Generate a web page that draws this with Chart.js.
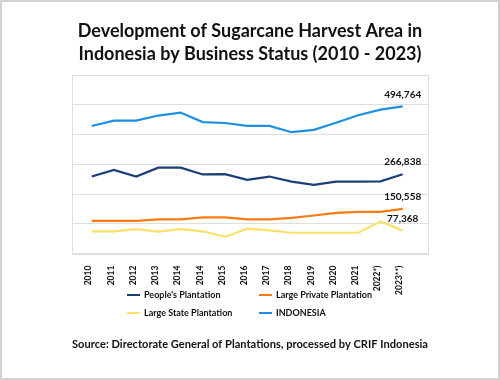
<!DOCTYPE html>
<html>
<head>
<meta charset="utf-8">
<script src="https://cdn.jsdelivr.net/npm/chart.js@4.4.0/dist/chart.umd.min.js"></script>
<style>
  html, body { margin: 0; padding: 0; background: #fff; }
</style>
</head>
<body>
<canvas id="Chart" width="500" height="380"></canvas>
<script>
// values (hectares)
var years = ['2010', '2011', '2012', '2013', '2014', '2014', '2015', '2016', '2017', '2018', '2019', '2020', '2021', '2022*)', '2023**)'];
var peoples = [259000, 281000, 259000, 289000, 289000, 266000, 267000, 248000, 259000, 242000, 231000, 242000, 242000, 243000, 266838];
var largePrivate = [110000, 110000, 110000, 115000, 115000, 122000, 122000, 115000, 115000, 120000, 128000, 137000, 140000, 140000, 150558];
var largeState = [75000, 75000, 82000, 74000, 82000, 75000, 56000, 84000, 78000, 70000, 70000, 70000, 70000, 108000, 77368];
var indonesia = [429000, 447000, 447000, 464000, 474000, 442000, 439000, 429000, 429000, 408000, 416000, 440000, 465000, 484000, 494764];

var seriesNames = ["People's Plantation", 'Large Private Plantation', 'Large State Plantation', 'INDONESIA'];
var seriesColors = ['#1c3f78', '#fb7a12', '#fbe06a', '#1e90e2'];
var seriesValues = [peoples, largePrivate, largeState, indonesia];

var FONT = "Lato, 'Open Sans', sans-serif";

function toPoints(arr) {
  return arr.map(function (v, i) { return { x: i, y: v }; });
}

// page border and white background
var pageFrame = {
  id: 'pageFrame',
  beforeDraw: function (chart) {
    var ctx = chart.ctx;
    ctx.save();
    ctx.fillStyle = '#fff';
    ctx.fillRect(0, 0, chart.width, chart.height);
    ctx.strokeStyle = '#d3d3d3';
    ctx.lineWidth = 2;
    ctx.strokeRect(1, 1, chart.width - 2, chart.height - 2);
    ctx.restore();
  },
  beforeDatasetsDraw: function (chart) {
    var a = chart.chartArea, ctx = chart.ctx;
    ctx.save();
    ctx.strokeStyle = '#dedede';
    ctx.lineWidth = 1;
    ctx.strokeRect(Math.round(a.left) + 0.5, Math.round(a.top) + 0.5, Math.round(a.right - a.left), Math.round(a.bottom - a.top));
    ctx.restore();
  }
};

// value of the last point above it
var lastLabels = {
  id: 'lastLabels',
  afterDatasetsDraw: function (chart) {
    var ctx = chart.ctx;
    ctx.save();
    ctx.font = 'bold 10px ' + FONT;
    ctx.fillStyle = '#111';
    ctx.textAlign = 'center';
    ctx.textBaseline = 'middle';
    chart.data.datasets.forEach(function (ds, i) {
      var meta = chart.getDatasetMeta(i);
      var pt = meta.data[meta.data.length - 1];
      var v = ds.data[ds.data.length - 1].y;
      ctx.fillText(v.toLocaleString('en-US'), pt.x, pt.y - 12);
    });
    ctx.restore();
  }
};

// legend in two columns
var gridLegend = {
  id: 'gridLegend',
  afterDraw: function (chart) {
    var ctx = chart.ctx;
    var colX = [127, 259];
    var rowY = [295, 313];
    ctx.save();
    ctx.font = 'bold 9px ' + FONT;
    ctx.textBaseline = 'middle';
    ctx.textAlign = 'left';
    chart.data.datasets.forEach(function (ds, i) {
      var x = colX[i % 2], y = rowY[Math.floor(i / 2)];
      ctx.strokeStyle = ds.borderColor;
      ctx.lineWidth = 2;
      ctx.beginPath();
      ctx.moveTo(x, y);
      ctx.lineTo(x + 13, y);
      ctx.stroke();
      ctx.fillStyle = '#111';
      ctx.fillText(ds.label, x + 17, y);
    });
    ctx.restore();
  }
};

var ctx = document.getElementById('Chart').getContext('2d');
var myChart = new Chart(ctx, {
  type: 'line',
  data: {
    datasets: seriesNames.map(function (name, i) {
      return {
        label: name,
        data: toPoints(seriesValues[i]),
        borderColor: seriesColors[i],
        backgroundColor: seriesColors[i],
        borderWidth: 2.2,
        pointRadius: 0,
        tension: 0
      };
    })
  },
  options: {
    responsive: false,
    animation: false,
    layout: { padding: { left: 72, right: 72, top: 20, bottom: 29 } },
    scales: {
      x: {
        type: 'linear',
        min: -0.887,
        max: 15.139,
        afterBuildTicks: function (axis) {
          axis.ticks = years.map(function (y, i) { return { value: i }; });
        },
        afterFit: function (axis) { axis.height = 83; },
        grid: { display: false },
        border: { display: false },
        ticks: {
          autoSkip: false,
          minRotation: 90,
          maxRotation: 90,
          padding: 4,
          labelOffset: -3,
          color: '#111',
          font: { family: FONT, size: 8.5, weight: 'bold' },
          callback: function (v) { return years[v]; }
        }
      },
      y: {
        min: 0,
        max: 600000,
        afterFit: function (axis) { axis.width = 0; },
        ticks: { display: false, stepSize: 100000 },
        grid: { color: '#dedede', lineWidth: 1, drawTicks: false },
        border: { display: false }
      }
    },
    plugins: {
      legend: { display: false },
      tooltip: { enabled: false },
      title: {
        display: true,
        text: ['Development of Sugarcane Harvest Area in', 'Indonesia by Business Status (2010 - 2023)'],
        color: '#111',
        font: { family: FONT, size: 18, weight: 'bold', lineHeight: 1.28 },
        padding: { top: 0, bottom: 9 }
      },
      subtitle: {
        display: true,
        position: 'bottom',
        text: 'Source: Directorate General of Plantations, processed by CRIF Indonesia',
        color: '#111',
        font: { family: FONT, size: 12, weight: 'bold', lineHeight: 1.2 },
        padding: 0
      }
    }
  },
  plugins: [pageFrame, lastLabels, gridLegend]
});
</script>
</body>
</html>
